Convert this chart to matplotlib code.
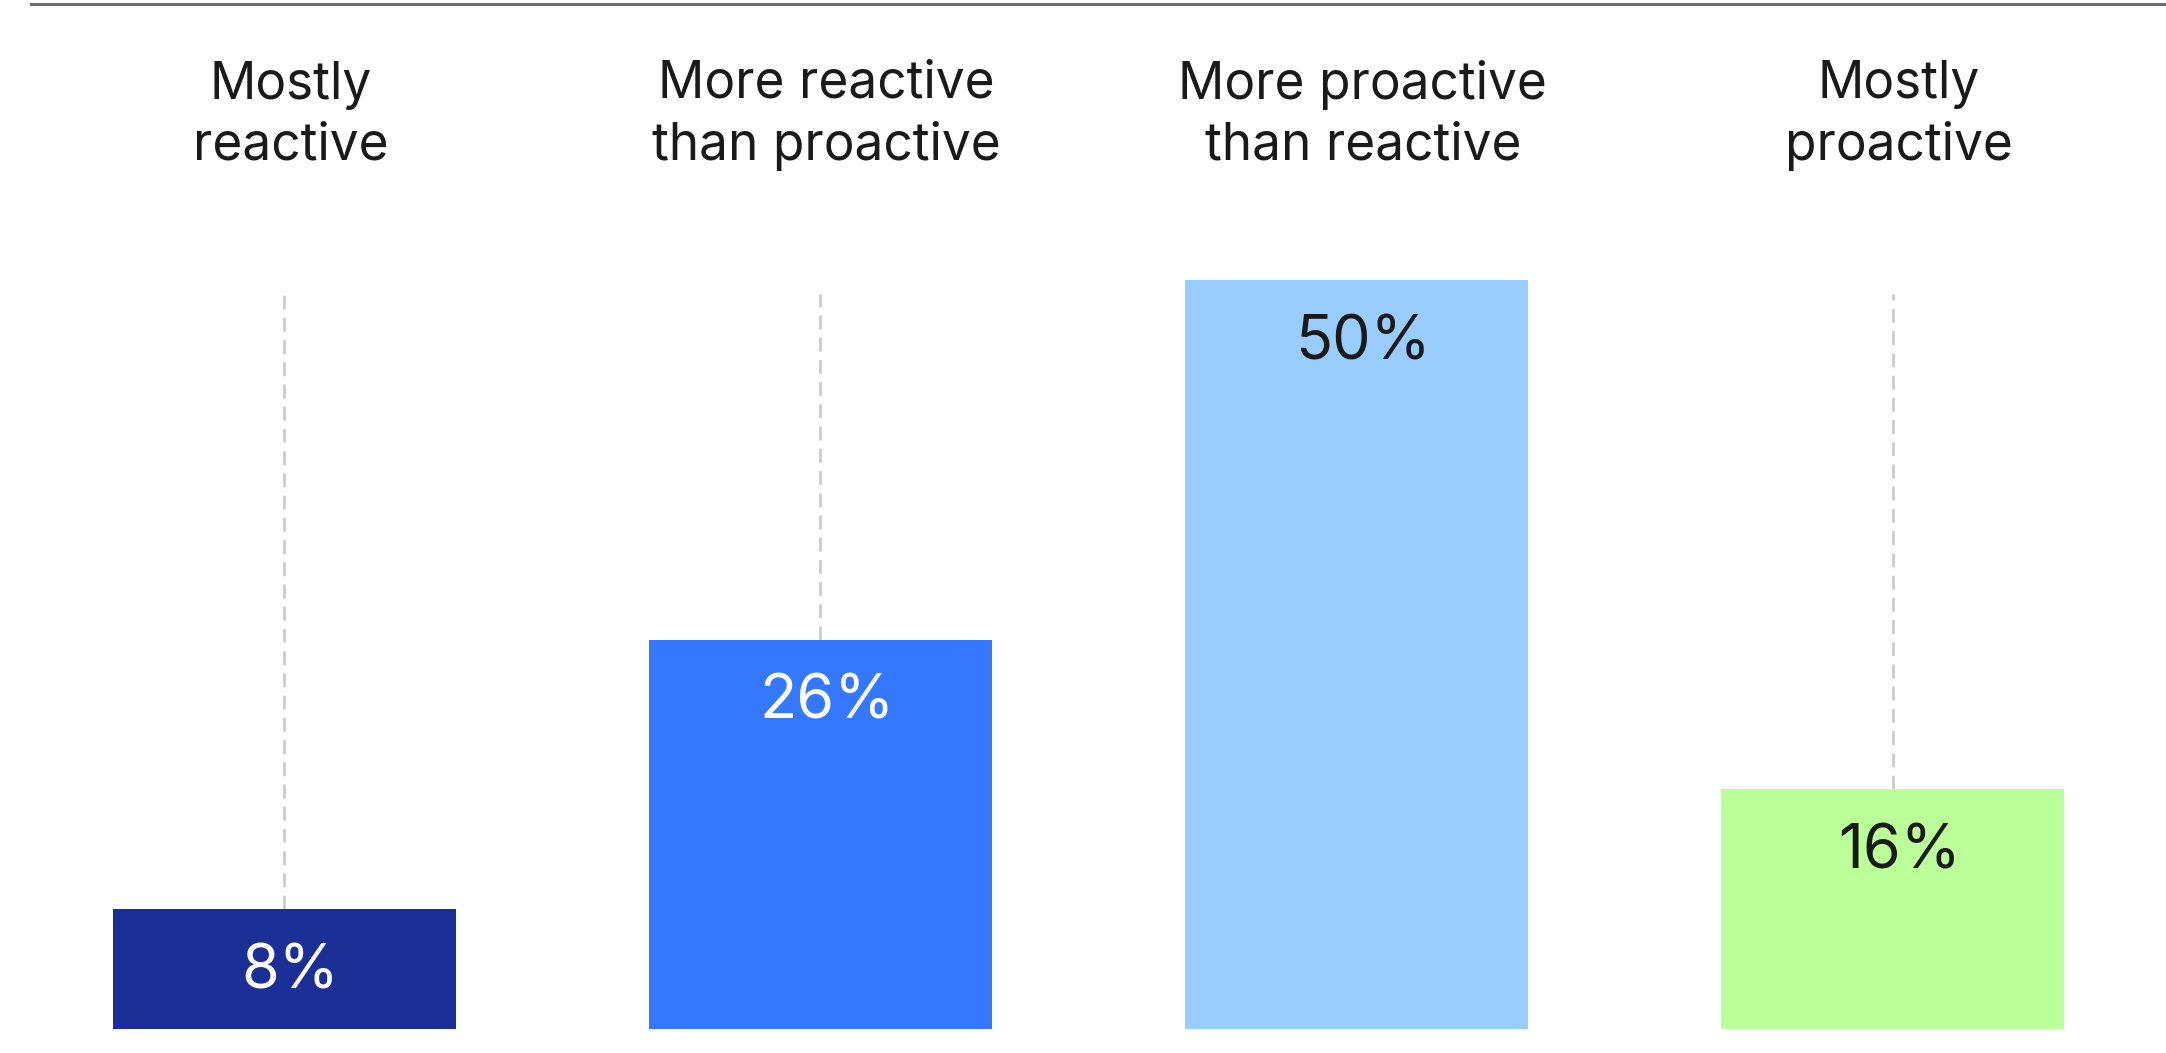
import matplotlib
matplotlib.use("Agg")
import matplotlib.pyplot as plt
from matplotlib.lines import Line2D

plt.rcParams['font.family'] = ['Inter', 'DejaVu Sans']

categories = ["Mostly\nreactive", "More reactive\nthan proactive",
              "More proactive\nthan reactive", "Mostly\nproactive"]
values = [8, 26, 50, 16]
bar_colors = ["#1c2f96", "#3478ff", "#99ccff", "#bbff99"]
text_colors = ["white", "white", "#1a1a1a", "#1a1a1a"]

fig = plt.figure(figsize=(21.66, 10.53), dpi=100)
ax = fig.add_axes([0, 0, 1, 1])
ax.set_xlim(-0.53, 3.51)
ax.set_ylim(-1.6, 68.7)
ax.axis("off")

x = list(range(len(values)))

# guide lines from the bar top upward
for i, v in enumerate(values):
    if v < 49:
        ax.plot([i, i], [v, 49.1], color="#cccccc", lw=2, ls=(0, (5, 3)), zorder=1)

ax.bar(x, values, width=0.64, color=bar_colors, zorder=2)

# text sits a touch right of the bar centres in the original
dx = 0.012
for i, v in enumerate(values):
    ax.text(i + dx, v - 4.2, f"{v}%", ha="center", va="center",
            fontsize=44, color=text_colors[i], zorder=3)
    ax.text(i + dx, 61.0, categories[i], ha="center", va="center",
            fontsize=37, color="#1a1a1a", linespacing=1.3)

# thin rule across the top
fig.add_artist(Line2D([31 / 2166, 1], [1 - 4 / 1053, 1 - 4 / 1053],
                      color="#6e6e6e", lw=2.2))

fig.savefig("out.png", dpi=100)
